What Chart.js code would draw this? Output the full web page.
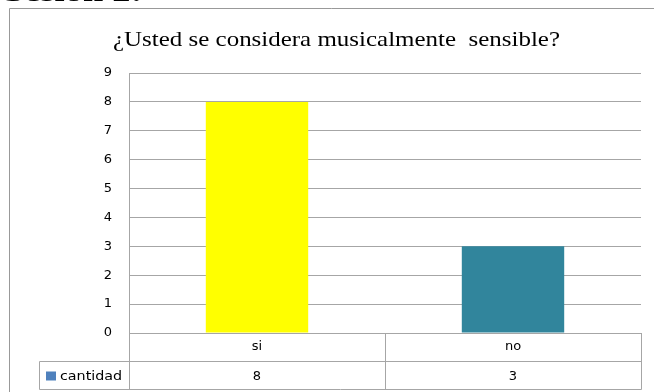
<!DOCTYPE html>
<html>
<head>
<meta charset="utf-8">
<script src="https://cdn.jsdelivr.net/npm/chart.js@4"></script>
<style>
    html, body { margin: 0; padding: 0; background: #fff; overflow: hidden; }
    #wrap { position: relative; width: 654px; height: 392px; overflow: hidden; }
    #heading {
        position: absolute; left: 4px; top: -22px;
        font: bold 28px "Liberation Serif", "Times New Roman", serif;
        line-height: 28px;
        color: #000; white-space: nowrap;
        transform: scaleX(1.3); transform-origin: left top;
    }
</style>
</head>
<body>
<div id="wrap">
    <canvas id="chart" width="654" height="392"></canvas>
    <div id="heading">Sesión 2:</div>
</div>
<script>
// data
const categories = ['si', 'no'];
const seriesName = 'cantidad';
const values = [8, 3];
const barColors = ['#ffff00', '#31859c'];
const yTicks = [0, 1, 2, 3, 4, 5, 6, 7, 8, 9];
const chartTitle = '¿Usted se considera musicalmente  sensible?';

const LINE = '#a6a6a6';
const TEXT_FONT = '"DejaVu Sans", Tahoma, sans-serif';

// stretched text, the source picture is wider than it is tall
function wideText(ctx, text, x, y, sx) {
    ctx.save();
    ctx.translate(x, y);
    ctx.scale(sx, 1);
    ctx.fillText(text, 0, 0);
    ctx.restore();
}

// outer frame, title and data table under the plot
const tablePlugin = {
    id: 'dataTable',
    beforeDraw(chart) {
        const ctx = chart.ctx;
        ctx.save();
        ctx.strokeStyle = '#999';
        ctx.lineWidth = 1;
        ctx.beginPath();
        ctx.moveTo(9.5, chart.height);
        ctx.lineTo(9.5, 8.5);
        ctx.lineTo(chart.width, 8.5);
        ctx.stroke();
        ctx.restore();
    },
    afterDraw(chart) {
        const ctx = chart.ctx;
        const area = chart.chartArea;
        const x = chart.scales.x;
        const rowH = 28;
        const top = Math.round(area.bottom) + 0.5;
        const left = Math.round(area.left) + 0.5;
        const right = Math.round(area.right) + 0.5;
        const legendLeft = 39.5;

        ctx.save();
        // title, fitted to the width it has in the picture
        ctx.fillStyle = '#000';
        ctx.font = '21px "Liberation Serif", "Times New Roman", serif';
        ctx.textAlign = 'left';
        ctx.textBaseline = 'alphabetic';
        const tw = ctx.measureText(chartTitle).width;
        wideText(ctx, chartTitle, 113, 46, 447 / tw);

        ctx.strokeStyle = LINE;
        ctx.lineWidth = 1;
        ctx.beginPath();
        // row lines
        ctx.moveTo(left, top + rowH);
        ctx.lineTo(right, top + rowH);
        ctx.moveTo(legendLeft, top + rowH);
        ctx.lineTo(left, top + rowH);
        ctx.moveTo(legendLeft, top + rowH * 2);
        ctx.lineTo(right, top + rowH * 2);
        // vertical lines
        ctx.moveTo(legendLeft, top + rowH);
        ctx.lineTo(legendLeft, top + rowH * 2);
        ctx.moveTo(left, top);
        ctx.lineTo(left, top + rowH * 2);
        ctx.moveTo(right, top);
        ctx.lineTo(right, top + rowH * 2);
        for (let i = 1; i < categories.length; i++) {
            const xm = Math.round((x.getPixelForValue(i - 1) + x.getPixelForValue(i)) / 2) + 0.5;
            ctx.moveTo(xm, top);
            ctx.lineTo(xm, top + rowH * 2);
        }
        ctx.stroke();

        // legend key + name
        ctx.fillStyle = '#4f81bd';
        ctx.fillRect(46, top + rowH + 10, 10, 9);
        ctx.fillStyle = '#000';
        ctx.font = '12px ' + TEXT_FONT;
        ctx.textBaseline = 'middle';
        ctx.textAlign = 'left';
        wideText(ctx, seriesName, 60, top + rowH + 15, 1.19);

        // values
        ctx.font = '13px ' + TEXT_FONT;
        ctx.textAlign = 'center';
        values.forEach((v, i) => {
            ctx.fillText(String(v), x.getPixelForValue(i), top + rowH + 15);
        });
        ctx.restore();
    }
};

const ctx = document.getElementById('chart').getContext('2d');
new Chart(ctx, {
    type: 'bar',
    data: {
        labels: categories,
        datasets: [{
            label: seriesName,
            data: values,
            backgroundColor: barColors,
            borderWidth: 0,
            barPercentage: 0.4,
            categoryPercentage: 1
        }]
    },
    options: {
        responsive: false,
        animation: false,
        layout: { padding: { left: 16, right: 13, top: 73, bottom: 0 } },
        plugins: {
            legend: { display: false },
            tooltip: { enabled: false },
            title: { display: false }
        },
        scales: {
            y: {
                min: 0,
                max: 9,
                afterBuildTicks(scale) {
                    scale.ticks = yTicks.map((v) => ({ value: v }));
                },
                afterFit(scale) { scale.width = 113; },
                grid: { color: LINE, drawTicks: false },
                border: { color: LINE },
                ticks: {
                    color: '#000',
                    padding: 17,
                    font: { family: TEXT_FONT, size: 13 }
                }
            },
            x: {
                afterFit(scale) { scale.height = 59; },
                grid: { display: false, drawTicks: false },
                border: { color: LINE },
                ticks: {
                    color: '#000',
                    padding: 6,
                    font: { family: TEXT_FONT, size: 13 }
                }
            }
        }
    },
    plugins: [tablePlugin]
});
</script>
</body>
</html>
